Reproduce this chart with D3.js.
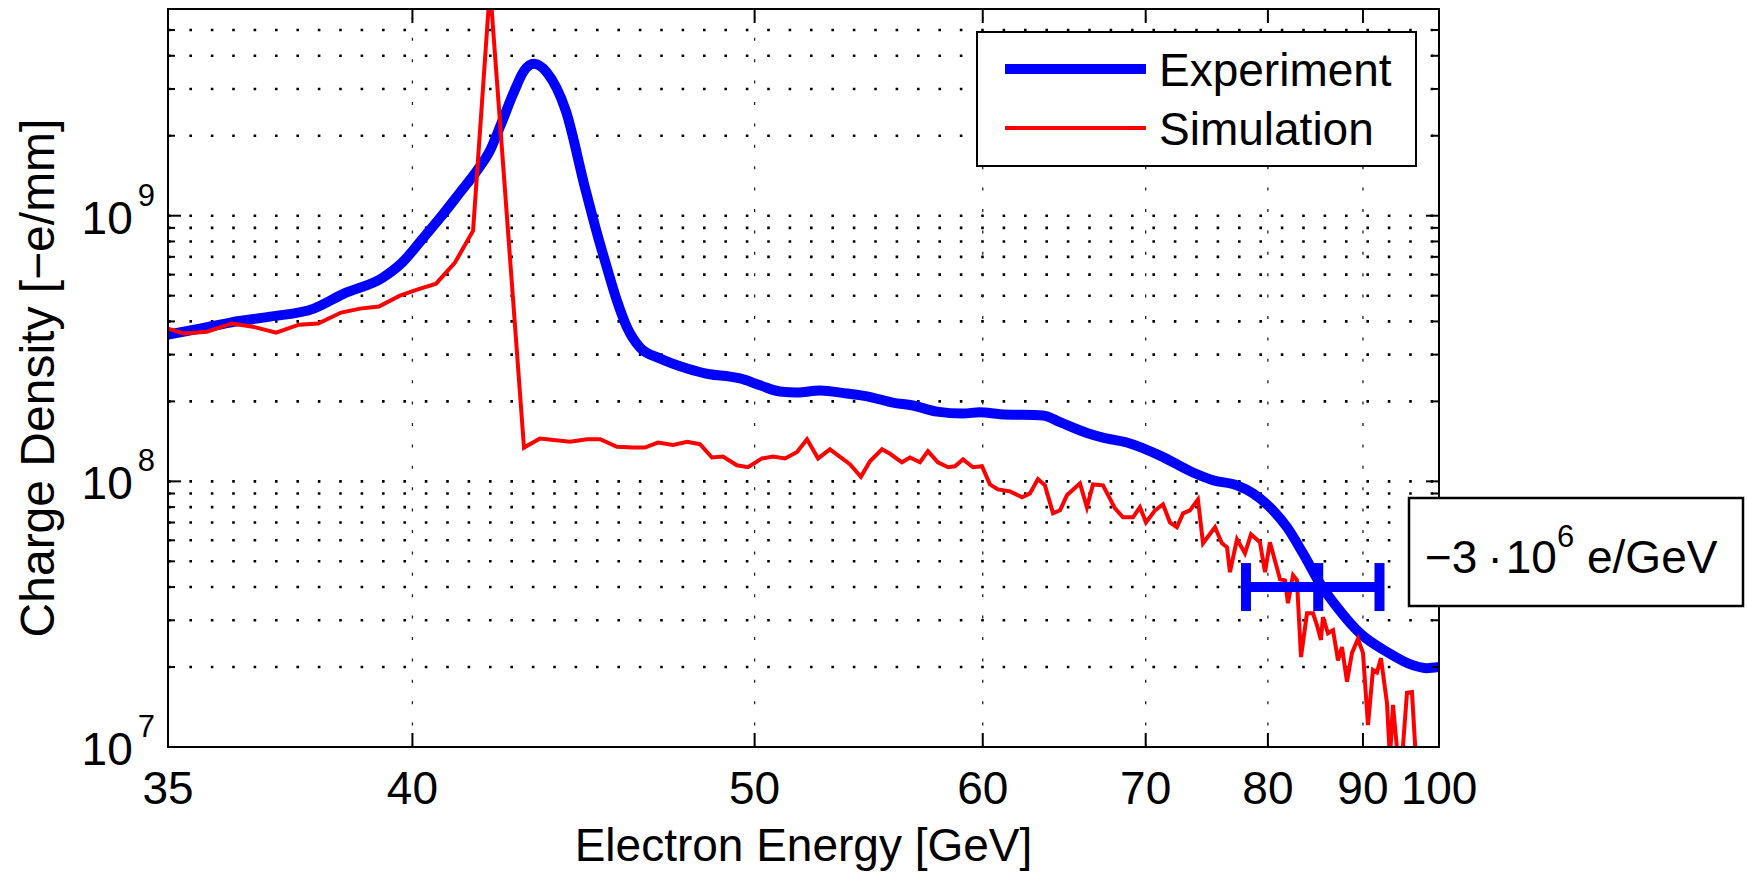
<!DOCTYPE html>
<html><head><meta charset="utf-8">
<script src="https://cdn.jsdelivr.net/npm/d3@7"></script>
<style>
body{margin:0;background:#fff}
svg{display:block}
text{font-family:"Liberation Sans",Arial,Helvetica,sans-serif;fill:#000;white-space:pre}
</style>
</head><body>
<svg id="chart" width="1747" height="873"></svg>
<script>
// ---- data ----
const xTickValues = [35, 40, 50, 60, 70, 80, 90, 100];
const xGridValues = [40, 50, 60, 70, 80, 90];
const yMajorTicks = [1e7, 1e8, 1e9];
const yMajorExp = ["7", "8", "9"];
const yMinorTicks = [2e7,3e7,4e7,5e7,6e7,7e7,8e7,9e7,2e8,3e8,4e8,5e8,6e8,7e8,8e8,9e8,2e9,3e9,4e9,5e9];

const expEnergy = [35, 35.58, 36.15, 36.93, 37.82, 38.46, 39.32, 39.76, 40.2, 40.66, 41.12, 41.6, 41.9, 42.19, 42.5, 42.79, 43.06, 43.42, 43.94, 44.49, 44.84, 45.13, 45.43, 45.74, 46.14, 46.77, 47.65, 48.42, 49.12, 49.47, 50.2, 50.94, 51.6, 52.51, 53.62, 54.47, 55.62, 56.54, 57.69, 58.98, 59.85, 60.92, 63.35, 64.36, 66.03, 67.07, 68.68, 71.04, 73.56, 75.17, 77.21, 78.63, 80.19, 81.82, 83.42, 85.18, 87.03, 89.65, 92.94, 96.34, 98.27, 100];
const expCharge = [3.57e8, 3.76e8, 3.96e8, 4.17e8, 4.47e8, 5.09e8, 5.85e8, 6.66e8, 8.05e8, 9.83e8, 1.21e9, 1.50e9, 1.76e9, 2.22e9, 2.87e9, 3.51e9, 3.73e9, 3.45e9, 2.48e9, 1.27e9, 8.56e8, 6.38e8, 4.79e8, 3.79e8, 3.19e8, 2.90e8, 2.66e8, 2.53e8, 2.48e8, 2.44e8, 2.30e8, 2.18e8, 2.16e8, 2.20e8, 2.14e8, 2.09e8, 1.98e8, 1.93e8, 1.83e8, 1.80e8, 1.82e8, 1.79e8, 1.77e8, 1.67e8, 1.52e8, 1.46e8, 1.40e8, 1.25e8, 1.08e8, 1.01e8, 9.66e7, 9.01e7, 7.99e7, 6.72e7, 5.36e7, 4.13e7, 3.36e7, 2.68e7, 2.28e7, 2.03e7, 1.98e7, 2.00e7];

const simEnergy = [35, 35.29, 35.71, 36.18, 36.59, 37.05, 37.51, 37.91, 38.40, 38.81, 39.23, 39.71, 40.11, 40.56, 41.02, 41.47, 41.9, 42.79, 43.22, 44.06, 44.54, 44.93, 45.43, 45.92, 46.29, 46.70, 47.19, 47.65, 48.08, 48.49, 48.87, 49.36, 49.76, 50.27, 50.68, 51.14, 51.60, 51.99, 52.43, 52.91, 53.74, 54.21, 54.60, 55.13, 55.49, 56.03, 56.40, 56.87, 57.25, 57.73, 58.23, 58.57, 58.98, 59.49, 59.96, 60.38, 60.81, 61.47, 62.14, 62.59, 63.05, 63.46, 63.94, 64.36, 64.78, 65.59, 66.03, 66.42, 67.07, 67.87, 68.41, 69.10, 69.59, 70.02, 70.67, 71.26, 71.78, 72.31, 72.78, 73.32, 73.95, 74.36, 75.34, 75.92, 76.35, 76.60, 77.21, 77.91, 78.45, 79.26, 79.73, 80.19, 81.15, 81.63, 81.92, 82.42, 82.81, 83.22, 83.83, 84.45, 84.87, 85.29, 85.50, 86.04, 86.59, 87.14, 87.58, 88.15, 88.72, 89.41, 90.00, 90.60, 91.20, 91.69, 92.18, 92.94, 93.31, 93.70, 94.34, 94.87, 95.53, 96.20, 96.74];
const simCharge = [3.76e8, 3.60e8, 3.66e8, 3.93e8, 3.82e8, 3.63e8, 3.89e8, 3.93e8, 4.32e8, 4.47e8, 4.55e8, 5.00e8, 5.27e8, 5.55e8, 6.66e8, 8.78e8, 7.26e9, 1.34e8, 1.45e8, 1.41e8, 1.44e8, 1.44e8, 1.35e8, 1.34e8, 1.34e8, 1.40e8, 1.37e8, 1.41e8, 1.38e8, 1.23e8, 1.24e8, 1.15e8, 1.13e8, 1.22e8, 1.24e8, 1.22e8, 1.29e8, 1.44e8, 1.22e8, 1.32e8, 1.16e8, 1.04e8, 1.19e8, 1.32e8, 1.27e8, 1.18e8, 1.23e8, 1.18e8, 1.30e8, 1.18e8, 1.13e8, 1.14e8, 1.21e8, 1.13e8, 1.14e8, 9.74e7, 9.33e7, 9.17e7, 8.71e7, 9.01e7, 1.02e8, 9.66e7, 7.58e7, 7.78e7, 8.86e7, 9.83e7, 7.99e7, 9.74e7, 9.66e7, 7.91e7, 7.32e7, 7.32e7, 7.99e7, 7.01e7, 7.78e7, 8.19e7, 7.01e7, 6.72e7, 7.58e7, 7.78e7, 8.55e7, 5.85e7, 6.72e7, 5.85e7, 5.65e7, 4.55e7, 6.05e7, 5.36e7, 6.32e7, 5.90e7, 4.55e7, 5.90e7, 4.28e7, 4.24e7, 3.48e7, 4.43e7, 4.24e7, 2.18e7, 3.19e7, 3.19e7, 2.87e7, 2.53e7, 3.08e7, 2.68e7, 2.75e7, 2.12e7, 2.38e7, 1.76e7, 2.26e7, 2.55e7, 2.26e7, 1.21e7, 1.95e7, 1.91e7, 2.16e7, 1.46e7, 9e6, 1.44e7, 9e6, 9e6, 1.60e7, 1.61e7, 9e6];

const errCenter = 85, errLow = 78, errHigh = 92, errCharge = 4e7;
const seriesNames = ["Experiment", "Simulation"];

// ---- layout ----
const L = 168, R = 1439, T = 9, B = 747;
const svg = d3.select("#chart");

// spectrometer axis: position is linear in 1/E
const x = d3.scaleLinear().domain([1/35, 1/100]).range([L, R]);
const xE = e => x(1 / e);
const y = d3.scaleLog().domain([1e7, 6e9]).range([B, T]);

svg.append("rect").attr("x", 0).attr("y", 0).attr("width", 1747).attr("height", 873).attr("fill", "#fff");

// grid
const grid = svg.append("g");
grid.selectAll("line.h").data(yMinorTicks.concat([1e8, 1e9])).join("line")
  .attr("x1", L).attr("x2", R)
  .attr("y1", d => y(d)).attr("y2", d => y(d))
  .attr("stroke", "#000").attr("stroke-width", 2.6)
  .attr("stroke-dasharray", "2.6,18.8");
grid.selectAll("line.v").data(xGridValues).join("line")
  .attr("x1", d => xE(d)).attr("x2", d => xE(d))
  .attr("y1", B).attr("y2", T)
  .attr("stroke", "#222").attr("stroke-width", 1.3)
  .attr("stroke-dasharray", "3,18.4");

// clip
svg.append("clipPath").attr("id", "plotclip").append("rect")
  .attr("x", L).attr("y", T).attr("width", R - L).attr("height", B - T);

const expData = expEnergy.map((e, i) => ({e, q: expCharge[i]}));
const simData = simEnergy.map((e, i) => ({e, q: simCharge[i]}));

const plot = svg.append("g").attr("clip-path", "url(#plotclip)");
plot.append("path").datum(expData)
  .attr("d", d3.line().x(d => xE(d.e)).y(d => y(d.q)).curve(d3.curveMonotoneX))
  .attr("fill", "none").attr("stroke", "#0000ff").attr("stroke-width", 10)
  .attr("stroke-linejoin", "round");
plot.append("path").datum(simData)
  .attr("d", d3.line().x(d => xE(d.e)).y(d => y(d.q)))
  .attr("fill", "none").attr("stroke", "#ff0000").attr("stroke-width", 4)
  .attr("stroke-linejoin", "miter");

// axes box and ticks
const ax = svg.append("g").attr("stroke", "#000").attr("stroke-width", 2);
ax.append("rect").attr("x", L).attr("y", T).attr("width", R - L).attr("height", B - T).attr("fill", "none");
ax.selectAll("line.xb").data(xTickValues).join("line")
  .attr("x1", d => xE(d)).attr("x2", d => xE(d)).attr("y1", B).attr("y2", B - 14);
ax.selectAll("line.xt").data(xTickValues).join("line")
  .attr("x1", d => xE(d)).attr("x2", d => xE(d)).attr("y1", T).attr("y2", T + 14);
const yTicks = yMajorTicks.map(v => ({v, len: 13})).concat(yMinorTicks.map(v => ({v, len: 7})));
ax.selectAll("line.yl").data(yTicks).join("line")
  .attr("x1", L).attr("x2", d => L + d.len).attr("y1", d => y(d.v)).attr("y2", d => y(d.v));
ax.selectAll("line.yr").data(yTicks).join("line")
  .attr("x1", R).attr("x2", d => R - d.len).attr("y1", d => y(d.v)).attr("y2", d => y(d.v));

// tick labels
svg.append("g").selectAll("text").data(xTickValues).join("text")
  .attr("x", d => xE(d)).attr("y", 804).attr("text-anchor", "middle")
  .attr("font-size", 46).text(d => d);
const yl = svg.append("g").selectAll("text").data(yMajorTicks).join("text")
  .attr("x", 155).attr("y", d => y(d) + 18).attr("text-anchor", "end")
  .attr("font-size", 46);
yl.append("tspan").text("10");
yl.append("tspan").attr("font-size", 31).attr("dx", 5).attr("dy", -28).text((d, i) => yMajorExp[i]);

// axis titles
svg.append("text").attr("x", (L + R) / 2).attr("y", 861).attr("text-anchor", "middle")
  .attr("font-size", 46).text("Electron Energy [GeV]");
svg.append("text").attr("transform", `translate(54,${(T + B) / 2}) rotate(-90)`)
  .attr("text-anchor", "middle").attr("font-size", 48).text("Charge Density [\u2212e/mm]");

// error bar
const eb = svg.append("g").attr("stroke", "#0000ff").attr("stroke-width", 10);
const ey = y(errCharge);
eb.append("line").attr("x1", xE(errLow)).attr("x2", xE(errHigh)).attr("y1", ey).attr("y2", ey);
eb.selectAll("line.cap").data([errLow, errCenter, errHigh]).join("line")
  .attr("x1", d => xE(d)).attr("x2", d => xE(d)).attr("y1", ey - 24).attr("y2", ey + 24);

// legend
const lg = svg.append("g");
lg.append("rect").attr("x", 977).attr("y", 32).attr("width", 439).attr("height", 134)
  .attr("fill", "#fff").attr("stroke", "#000").attr("stroke-width", 2);
lg.append("line").attr("x1", 1005).attr("x2", 1146).attr("y1", 69).attr("y2", 69)
  .attr("stroke", "#0000ff").attr("stroke-width", 10);
lg.append("line").attr("x1", 1005).attr("x2", 1146).attr("y1", 128).attr("y2", 128)
  .attr("stroke", "#ff0000").attr("stroke-width", 4);
lg.append("text").attr("x", 1159).attr("y", 86).attr("font-size", 46).text(seriesNames[0]);
lg.append("text").attr("x", 1159).attr("y", 145).attr("font-size", 46).text(seriesNames[1]);

// annotation box
const an = svg.append("g");
an.append("rect").attr("x", 1409).attr("y", 498).attr("width", 334).attr("height", 108)
  .attr("fill", "#fff").attr("stroke", "#000").attr("stroke-width", 2.5);
const at = an.append("text").attr("x", 1425).attr("y", 573).attr("font-size", 46);
at.append("tspan").text("\u22123");
at.append("tspan").attr("dx", 10).text("\u00B7");
at.append("tspan").attr("dx", 3).text("10");
at.append("tspan").attr("font-size", 31).attr("dy", -26).text("6");
at.append("tspan").attr("font-size", 46).attr("dy", 26).text(" e/GeV");
</script>
</body></html>
